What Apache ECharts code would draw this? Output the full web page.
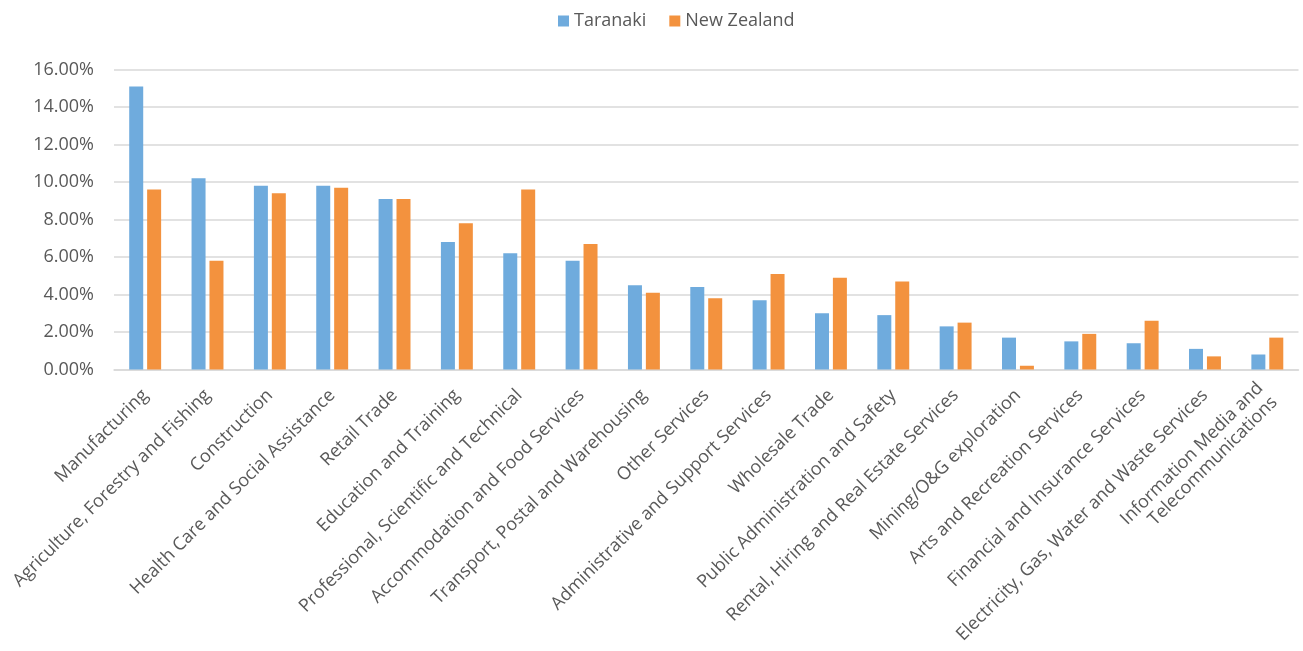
<!DOCTYPE html>
<html>
<head>
<meta charset="utf-8">
<script src="https://cdn.jsdelivr.net/npm/echarts@6/dist/echarts.min.js"></script>
<style>html,body{margin:0;padding:0;background:#fff}#c{width:1303px;height:651px}</style>
</head>
<body>
<div id="c"></div>
<script>
const categories = [
  "Manufacturing",
  "Agriculture, Forestry and Fishing",
  "Construction",
  "Health Care and Social Assistance",
  "Retail Trade",
  "Education and Training",
  "Professional, Scientific and Technical",
  "Accommodation and Food Services",
  "Transport, Postal and Warehousing",
  "Other Services",
  "Administrative and Support Services",
  "Wholesale Trade",
  "Public Administration and Safety",
  "Rental, Hiring and Real Estate Services",
  "Mining/O&G exploration",
  "Arts and Recreation Services",
  "Financial and Insurance Services",
  "Electricity, Gas, Water and Waste Services",
  "Information Media and\nTelecommunications"
];
const taranaki = [15.1, 10.2, 9.8, 9.8, 9.1, 6.8, 6.2, 5.8, 4.5, 4.4, 3.7, 3.0, 2.9, 2.3, 1.7, 1.5, 1.4, 1.1, 0.8];
const newZealand = [9.6, 5.8, 9.4, 9.7, 9.1, 7.8, 9.6, 6.7, 4.1, 3.8, 5.1, 4.9, 4.7, 2.5, 0.2, 1.9, 2.6, 0.7, 1.7];
const yTicks = [0, 2, 4, 6, 8, 10, 12, 14, 16];

const chart = echarts.init(document.getElementById('c'));
const font = '"Open Sans", "Noto Sans", sans-serif';
chart.setOption({
  animation: false,
  textStyle: { fontFamily: font },
  legend: {
    top: 7,
    left: 553,
    itemWidth: 11,
    itemHeight: 11,
    itemGap: 23,
    icon: 'rect',
    textStyle: { color: '#595959', fontSize: 18, fontFamily: font },
    data: ['Taranaki', 'New Zealand']
  },
  grid: { left: 114, right: 4.5, top: 69.5, bottom: 281.5, containLabel: false },
  xAxis: {
    type: 'category',
    data: categories,
    axisLine: { lineStyle: { color: '#d9d9d9', width: 1.5 } },
    axisTick: { show: false },
    axisLabel: {
      rotate: 45,
      interval: 0,
      margin: 23,
      color: '#595959',
      fontSize: 18,
      lineHeight: 20,
      fontFamily: font
    }
  },
  yAxis: {
    type: 'value',
    min: yTicks[0],
    max: yTicks[yTicks.length - 1],
    interval: 2,
    axisLine: { show: false },
    axisTick: { show: false },
    splitLine: { lineStyle: { color: '#d9d9d9', width: 1.5 } },
    axisLabel: {
      color: '#595959',
      fontSize: 18,
      fontFamily: font,
      margin: 20,
      formatter: v => v.toFixed(2) + '%'
    }
  },
  series: [
    {
      name: 'Taranaki',
      type: 'bar',
      data: taranaki,
      barWidth: 14,
      barGap: '28%',
      itemStyle: { color: '#6FABDD' }
    },
    {
      name: 'New Zealand',
      type: 'bar',
      data: newZealand,
      barWidth: 14,
      itemStyle: { color: '#F3923E' }
    }
  ]
});
</script>
</body>
</html>
